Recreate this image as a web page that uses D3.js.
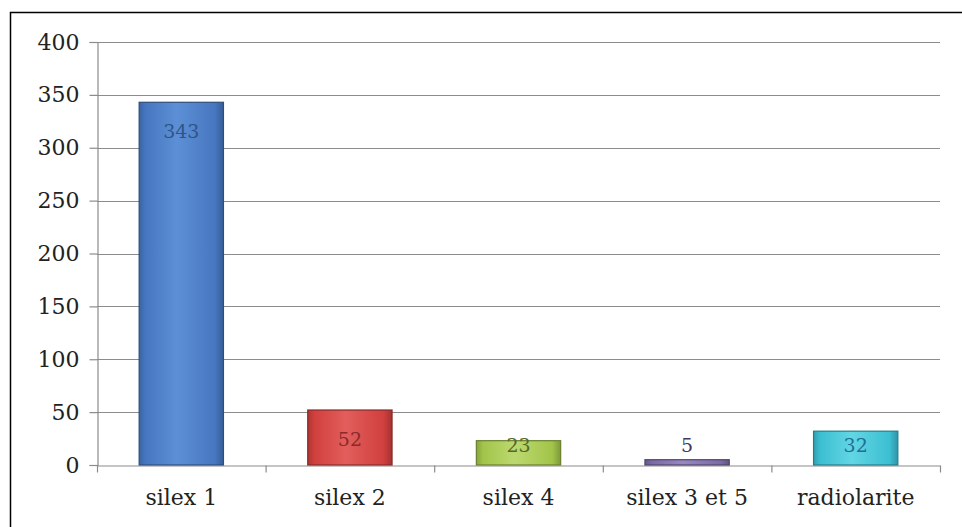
<!DOCTYPE html>
<html>
<head>
<meta charset="utf-8">
<script src="https://cdn.jsdelivr.net/npm/d3@7"></script>
<style>
  body { margin: 0; background: #fff; }
  svg { display: block; font-family: "DejaVu Serif", serif; }
</style>
</head>
<body>
<div id="chart"></div>
<script>
// Data
const categories = ["silex 1", "silex 2", "silex 4", "silex 3 et 5", "radiolarite"];
const values = [343, 52, 23, 5, 32];
const yTicks = [0, 50, 100, 150, 200, 250, 300, 350, 400];

// Colours per bar: base, light highlight, label
const baseColors = ["#4677c0", "#d0403e", "#a2c44a", "#7b6aa6", "#3cbfd2"];
const lightColors = ["#5d8fd6", "#e25e5c", "#bcd970", "#9788c0", "#62d6e4"];
const labelColors = ["#2f5585", "#8a2b29", "#55682a", "#3e3a5e", "#1f6f95"];

const width = 962;
const height = 527;
const margin = {top: 42, right: 22, bottom: 62, left: 97};

const svg = d3.select("#chart")
  .append("svg")
    .attr("width", width)
    .attr("height", height);

// Outer frame (runs off the right and bottom of the picture)
svg.append("rect")
  .attr("x", 10.5)
  .attr("y", 12.5)
  .attr("width", 1000)
  .attr("height", 600)
  .attr("fill", "none")
  .attr("stroke", "#000")
  .attr("stroke-width", 1.5);

const x = d3.scaleBand()
  .domain(categories)
  .range([margin.left, width - margin.right])
  .paddingInner(0.5)
  .paddingOuter(0.25);

const y = d3.scaleLinear()
  .domain([0, 400])
  .range([height - margin.bottom, margin.top]);

// Gradients for bars (subtle highlight in the middle, darker edges)
const defs = svg.append("defs");
categories.forEach((c, i) => {
  const g = defs.append("linearGradient")
    .attr("id", "grad" + i)
    .attr("x1", "0").attr("x2", "1").attr("y1", "0").attr("y2", "0");
  g.append("stop").attr("offset", "0%").attr("stop-color", d3.color(baseColors[i]).darker(0.5));
  g.append("stop").attr("offset", "8%").attr("stop-color", baseColors[i]);
  g.append("stop").attr("offset", "45%").attr("stop-color", lightColors[i]);
  g.append("stop").attr("offset", "90%").attr("stop-color", baseColors[i]);
  g.append("stop").attr("offset", "100%").attr("stop-color", d3.color(baseColors[i]).darker(0.7));
});

// Gridlines
svg.append("g")
  .attr("stroke", "#8c8c8c")
  .attr("stroke-width", 1.2)
.selectAll("line")
.data(yTicks.filter(d => d > 0))
.join("line")
  .attr("x1", margin.left)
  .attr("x2", width - margin.right)
  .attr("y1", d => Math.round(y(d)) + 0.5)
  .attr("y2", d => Math.round(y(d)) + 0.5);

// Y axis
const yAxis = svg.append("g")
  .attr("transform", `translate(${margin.left + 0.5},0)`)
  .call(d3.axisLeft(y).tickValues(yTicks).tickSize(8).tickPadding(10).tickFormat(d3.format("d")));
yAxis.select(".domain").attr("stroke", "#8c8c8c").attr("stroke-width", 1.2);
yAxis.selectAll(".tick line").attr("stroke", "#8c8c8c").attr("stroke-width", 1.2);
yAxis.selectAll(".tick text")
  .attr("font-size", 22)
  .attr("font-family", "DejaVu Serif, serif")
  .attr("fill", "#222");

// X axis
const xAxis = svg.append("g")
  .attr("transform", `translate(0,${Math.round(y(0)) + 0.5})`)
  .call(d3.axisBottom(x).tickSize(0).tickPadding(24));
xAxis.select(".domain").attr("stroke", "#8c8c8c").attr("stroke-width", 1.2);
xAxis.selectAll(".tick text")
  .attr("font-size", 22)
  .attr("font-family", "DejaVu Serif, serif")
  .attr("fill", "#222");

// Category separator ticks
const step = x.step();
xAxis.append("g")
.selectAll("line")
.data(d3.range(categories.length + 1))
.join("line")
  .attr("x1", i => margin.left + 0.5 + i * step)
  .attr("x2", i => margin.left + 0.5 + i * step)
  .attr("y1", 0)
  .attr("y2", 7)
  .attr("stroke", "#8c8c8c")
  .attr("stroke-width", 1.2);

// Bars
svg.append("g")
.selectAll("rect")
.data(values)
.join("rect")
  .attr("x", (d, i) => x(categories[i]))
  .attr("y", d => y(d))
  .attr("width", x.bandwidth())
  .attr("height", d => y(0) - y(d))
  .attr("fill", (d, i) => `url(#grad${i})`)
  .attr("stroke", (d, i) => d3.color(baseColors[i]).darker(1.2))
  .attr("stroke-width", 1.2);

// Value labels
svg.append("g")
.selectAll("text")
.data(values)
.join("text")
  .attr("x", (d, i) => x(categories[i]) + x.bandwidth() / 2)
  .attr("y", d => Math.min(y(d) + 29, y(0) - 20) + 7)
  .attr("text-anchor", "middle")
  .attr("font-size", 19)
  .attr("fill", (d, i) => labelColors[i])
  .text(d => d);
</script>
</body>
</html>
